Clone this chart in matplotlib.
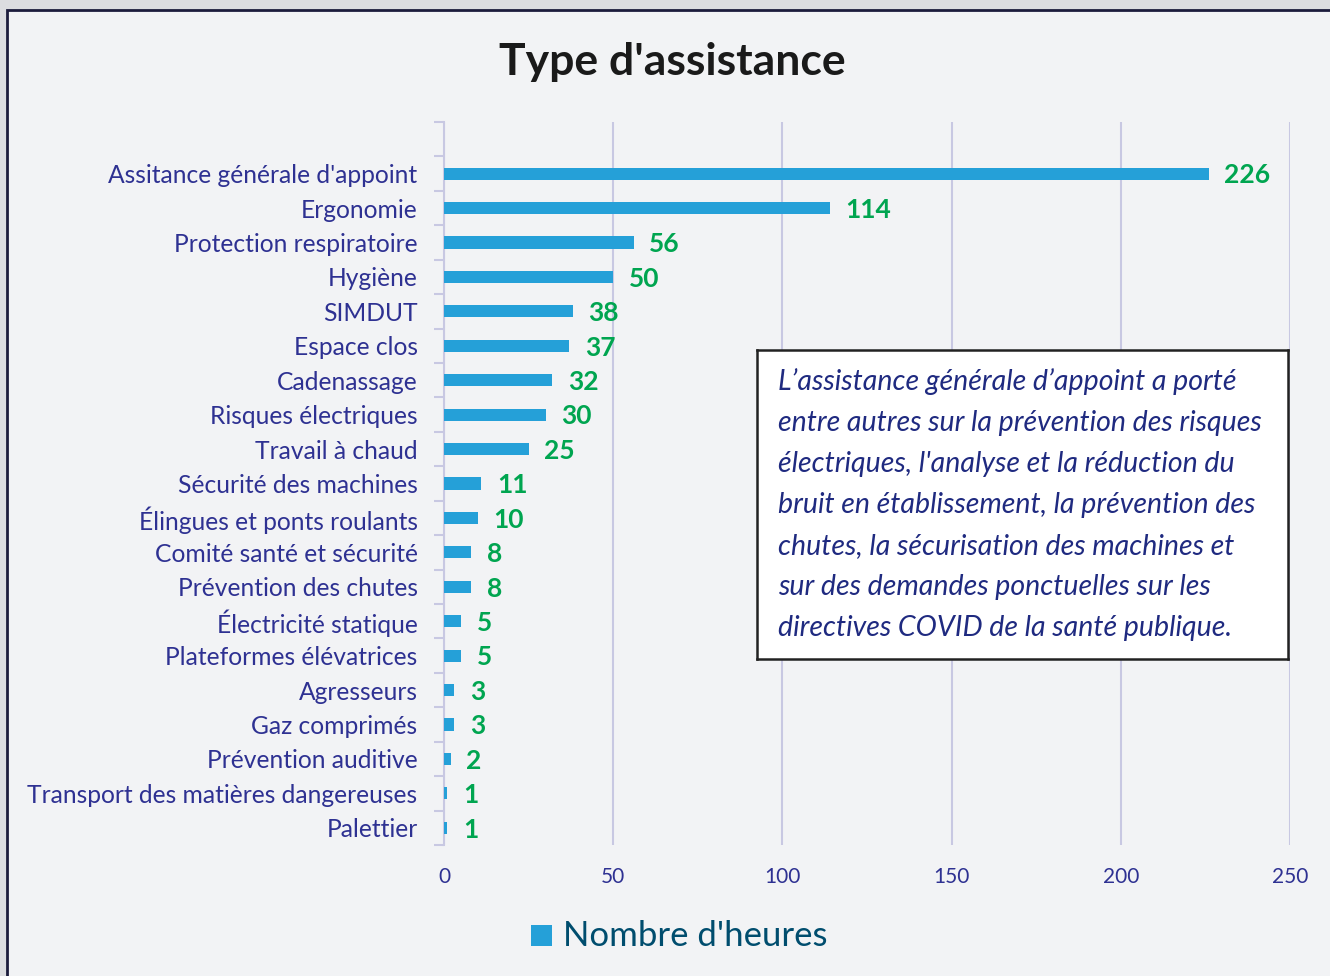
import matplotlib
matplotlib.use("Agg")
import matplotlib.pyplot as plt
from matplotlib.patches import Rectangle
from matplotlib.ticker import FixedLocator

plt.rcParams['font.family'] = ['Lato', 'DejaVu Sans']

categories = ["Assitance générale d'appoint", "Ergonomie", "Protection respiratoire", "Hygiène",
              "SIMDUT", "Espace clos", "Cadenassage", "Risques électriques", "Travail à chaud",
              "Sécurité des machines", "Élingues et ponts roulants", "Comité santé et sécurité",
              "Prévention des chutes", "Électricité statique", "Plateformes élévatrices",
              "Agresseurs", "Gaz comprimés", "Prévention auditive",
              "Transport des matières dangereuses", "Palettier"]
hours = [226, 114, 56, 50, 38, 37, 32, 30, 25, 11, 10, 8, 8, 5, 5, 3, 3, 2, 1, 1]
x_ticks = [0, 50, 100, 150, 200, 250]

note = ("L\u2019assistance générale d\u2019appoint a porté\n"
        "entre autres sur la prévention des risques\n"
        "électriques, l'analyse et la réduction du\n"
        "bruit en établissement, la prévention des\n"
        "chutes, la sécurisation des machines et\n"
        "sur des demandes ponctuelles sur les\n"
        "directives COVID de la santé publique.")

W, H = 1330, 976
fig = plt.figure(figsize=(13.3, 9.76), dpi=100)
fig.patch.set_facecolor('#dcdde0')
# chart frame
fig.patches.append(Rectangle((7/W, -0.01), 1.0, 1 - 10/H + 0.01, transform=fig.transFigure,
                             facecolor='#f2f3f5', edgecolor='#1c1c3c', linewidth=2, zorder=-5))

ax = fig.add_axes([444/W, 1 - 845/H, 846/W, 723/H])
ax.set_zorder(1)
ax.set_facecolor('none')
n = len(categories)
ypos = list(range(n))
ax.barh(ypos, hours, height=0.35, color='#25a0d8', zorder=3)
for y, v in zip(ypos, hours):
    ax.text(v + 4.6, y + 0.05, str(v), va='center', ha='left', color='#00a550',
            fontsize=19, fontweight='bold')

# one empty slot above the first category, as in the source chart
ax.set_ylim(n - 0.5, -1.5)
ax.set_xlim(0, 250)
ax.xaxis.set_major_locator(FixedLocator(x_ticks))
ax.set_yticks(ypos)
ax.set_yticklabels(categories)
ax.yaxis.set_minor_locator(FixedLocator([i - 0.5 for i in range(-1, n + 1)]))
ax.tick_params(axis='y', which='major', length=0, pad=19, labelsize=17.7, labelcolor='#2e3192')
ax.tick_params(axis='y', which='minor', length=7, width=1.5, color='#c8c8e2')
ax.tick_params(axis='x', length=0, pad=16, labelsize=15, labelcolor='#2e3192')
ax.grid(axis='x', color='#c8c8e2', linewidth=1.5, zorder=0)
for s in ['top', 'right', 'bottom']:
    ax.spines[s].set_visible(False)
ax.spines['left'].set_color('#c8c8e2')
ax.spines['left'].set_linewidth(1.5)

fig.text(672/W, 1 - 62/H, "Type d'assistance", ha='center', va='center',
         fontsize=32, fontweight='bold', color='#1a1a1a')

# annotation box (above the axes)
box_ax = fig.add_axes([757/W, 1 - 659/H, 531/W, 309/H])
box_ax.set_zorder(5)
box_ax.set_xticks([])
box_ax.set_yticks([])
box_ax.set_facecolor('white')
for s in box_ax.spines.values():
    s.set_color('#222222')
    s.set_linewidth(1.8)
box_ax.text(21/531, 0.5, note, transform=box_ax.transAxes, ha='left', va='center',
            fontsize=20.5, style='italic', color='#1f2a80', linespacing=1.72)

# legend
fig.patches.append(Rectangle((531/W, 1 - 946/H), 21/W, 21/H, transform=fig.transFigure,
                             facecolor='#25a0d8', edgecolor='none'))
fig.text(563/W, 1 - 936/H, "Nombre d'heures", ha='left', va='center', fontsize=25,
         color='#004d6e')

fig.savefig('out.png', dpi=100, facecolor=fig.get_facecolor())
